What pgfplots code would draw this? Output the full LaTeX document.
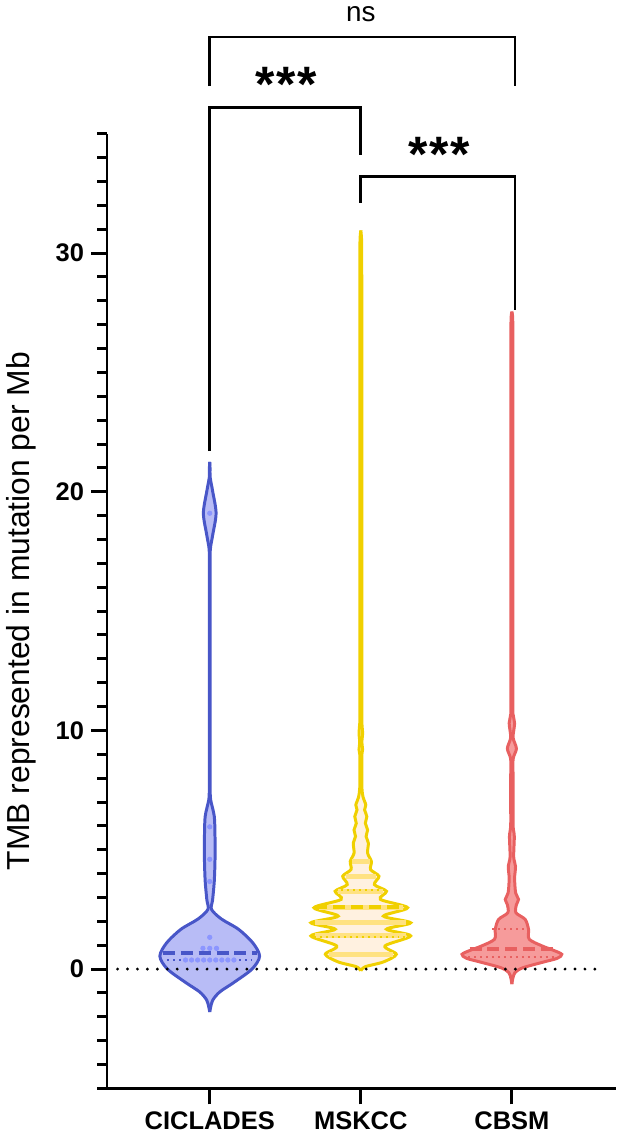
\documentclass[border=0pt]{standalone}
\usepackage{fontspec}
\setmainfont{Liberation Sans}
\usepackage{pgfplots}
\usepackage{pgfplotstable}
\pgfplotsset{compat=1.18}
\usepgfplotslibrary{fillbetween}

\definecolor{cicL}{RGB}{72,86,200}
\definecolor{cicF}{RGB}{176,181,245}
\definecolor{cicP}{RGB}{140,150,255}
\definecolor{mskL}{RGB}{240,208,0}
\definecolor{mskF}{RGB}{255,241,224}
\definecolor{mskB}{RGB}{255,226,130}
\definecolor{cbsL}{RGB}{232,96,96}
\definecolor{cbsF}{RGB}{246,155,155}

% violin half widths (x units) against TMB value
\pgfplotstableread{
y w
-1.8 0
-1.6 0.006
-1.3 0.02
-0.96 0.066
-0.56 0.16
0.0 0.28
0.54 0.33
1.1 0.285
1.67 0.19
2.1 0.077
2.5 0.012
2.9 0.019
3.67 0.03
4.6 0.035
5.5 0.035
6.4 0.03
7.1 0.006
7.6 0.003
8.3 0.003
9.3 0.003
11.0 0.003
13.0 0.003
15.0 0.003
16.2 0.003
17.0 0.003
17.6 0.004
18.2 0.02
19.1 0.042
20.0 0.02
20.6 0.003
21.0 0.002
21.25 0
}\cic

\pgfplotstableread{
y w
-0.07 0
0.1 0.03
0.3 0.15
0.62 0.235
0.97 0.16
1.39 0.33
1.67 0.17
1.94 0.33
2.22 0.15
2.57 0.31
2.92 0.13
3.26 0.17
3.54 0.09
3.89 0.12
4.17 0.065
4.51 0.07
4.86 0.045
5.28 0.05
5.56 0.035
5.83 0.045
6.11 0.03
6.39 0.04
6.67 0.025
6.88 0.033
7.2 0.015
7.6 0.007
8.3 0.007
9.0 0.007
9.2 0.012
9.5 0.007
9.9 0.012
10.3 0.007
11.0 0.007
12.0 0.007
14.0 0.007
17.0 0.007
20.0 0.007
23.0 0.007
26.0 0.007
28.0 0.007
29.5 0.006
30.3 0.006
30.7 0.004
30.95 0
}\msk

\pgfplotstableread{
y w
-0.63 0
-0.4 0.006
-0.15 0.02
0.05 0.07
0.28 0.2
0.45 0.3
0.62 0.33
0.8 0.27
0.97 0.2
1.25 0.115
1.67 0.11
2.08 0.088
2.36 0.027
2.7 0.03
2.92 0.044
3.19 0.025
3.8 0.018
4.3 0.024
4.7 0.012
5.56 0.016
6.0 0.008
7.0 0.008
8.0 0.008
8.8 0.008
9.24 0.03
9.7 0.008
10.3 0.018
10.7 0.007
11.4 0.007
12.5 0.007
14.5 0.007
17.0 0.007
20.0 0.007
23.0 0.007
25.5 0.007
26.6 0.007
27.1 0.006
27.4 0.004
27.55 0
}\cbs

\begin{document}
\begin{tikzpicture}
\begin{axis}[
    scale only axis,
    width=256pt, height=480pt,
    xmin=0.32, xmax=3.69,
    ymin=-5, ymax=35,
    axis x line=bottom, axis y line=left,
    axis line style={-, line width=1.5pt},
    tick style={black, line width=1.5pt},
    tick align=outside,
    major tick length=8pt, minor tick length=5pt,
    xtick={1,2,3},
    xticklabels={CICLADES, MSKCC, CBSM},
    ytick={0,10,20,30},
    minor ytick={-5,-4,...,35},
    /pgf/number format/assume math mode=true,
    ticklabel style={font=\bfseries\fontsize{12.8}{14}\selectfont},
    ylabel={TMB represented in mutation per Mb},
    every axis y label/.style={at={(axis description cs:-0.168,0.5)}, rotate=90, anchor=center, font=\fontsize{16}{19}\selectfont},
    clip=false,
]
% CICLADES
\addplot[name path=cR, cicL, line width=1.5pt, smooth, tension=0.5] table[x expr=1+\thisrow{w}, y=y] {\cic};
\addplot[name path=cL, cicL, line width=1.5pt, smooth, tension=0.5] table[x expr=1-\thisrow{w}, y=y] {\cic};
\addplot[cicF, fill opacity=0.9] fill between[of=cR and cL];
% MSKCC
\addplot[name path=mR, mskL, line width=1.5pt, smooth, tension=0.5] table[x expr=2+\thisrow{w}, y=y] {\msk};
\addplot[name path=mL, mskL, line width=1.5pt, smooth, tension=0.5] table[x expr=2-\thisrow{w}, y=y] {\msk};
\addplot[mskF] fill between[of=mR and mL];
% CBSM
\addplot[name path=bR, cbsL, line width=1.5pt, smooth, tension=0.5] table[x expr=3+\thisrow{w}, y=y] {\cbs};
\addplot[name path=bL, cbsL, line width=1.5pt, smooth, tension=0.5] table[x expr=3-\thisrow{w}, y=y] {\cbs};
\addplot[cbsF] fill between[of=bR and bL];

% MSKCC bands of points
\addplot[mskB, line width=2.5pt] coordinates {(1.79,0.62) (2.21,0.62)};
\addplot[mskB, line width=2.5pt] coordinates {(1.70,1.39) (2.30,1.39)};
\addplot[mskB, line width=2.5pt] coordinates {(1.70,1.94) (2.30,1.94)};
\addplot[mskB, line width=2.5pt] coordinates {(1.72,2.57) (2.28,2.57)};
\addplot[mskB, line width=2.5pt] coordinates {(1.85,3.26) (2.15,3.26)};
\addplot[mskB, line width=2.5pt] coordinates {(1.90,3.89) (2.10,3.89)};
\addplot[mskB, line width=2.5pt] coordinates {(1.94,4.51) (2.06,4.51)};

% CICLADES points
\addplot[only marks, mark=*, mark size=1.1pt, cicP] coordinates {
(1,19.1) (1,5.96) (1,4.6) (1,3.67) (1,1.33)
(0.955,0.87) (1,0.87) (1.045,0.87)
(0.84,0.38) (0.88,0.38) (0.92,0.38) (0.96,0.38) (1,0.38) (1.04,0.38) (1.08,0.38) (1.12,0.38) (1.16,0.38)};

% medians and quartiles
\addplot[cicL, line width=1.8pt, dash pattern=on 6pt off 3pt] coordinates {(0.69,0.67) (1.31,0.67)};
\addplot[cicL, line width=1pt, dash pattern=on 1pt off 2pt] coordinates {(0.72,0.40) (1.28,0.40)};
\addplot[mskL, line width=1.8pt, dash pattern=on 6pt off 3pt] coordinates {(1.70,2.6) (2.30,2.6)};
\addplot[mskL, line width=1pt, dash pattern=on 1pt off 2pt] coordinates {(1.83,3.3) (2.17,3.3)};
\addplot[mskL, line width=1pt, dash pattern=on 1pt off 2pt] coordinates {(1.69,1.33) (2.31,1.33)};
\addplot[cbsL, line width=1.8pt, dash pattern=on 6pt off 3pt] coordinates {(2.72,0.83) (3.27,0.83)};
\addplot[cbsL, line width=1pt, dash pattern=on 1pt off 2pt] coordinates {(2.87,1.67) (3.13,1.67)};
\addplot[cbsL, line width=1pt, dash pattern=on 1pt off 2pt] coordinates {(2.71,0.5) (3.30,0.5)};

% zero line
\addplot[black, line width=1.6pt, line cap=round, dash pattern=on 0pt off 5pt] coordinates {(0.39,0) (3.61,0)};

% significance brackets
\draw[line width=1.4pt] (axis cs:1,37.0) -- (axis cs:1,39.05) -- (axis cs:3.02,39.05) -- (axis cs:3.02,37.0);
\node[anchor=base, font=\fontsize{14}{16}\selectfont] at (axis cs:2,39.7) {ns};
\draw[line width=1.4pt] (axis cs:1,21.7) -- (axis cs:1,36.1) -- (axis cs:2,36.1) -- (axis cs:2,34.1);
\node[inner sep=0pt, font=\bfseries\fontsize{25}{28}\selectfont] at (axis cs:1.507,37.05) {*\kern1pt*\kern1pt*};
\draw[line width=1.4pt] (axis cs:2,32.1) -- (axis cs:2,33.2) -- (axis cs:3.02,33.2) -- (axis cs:3.02,27.6);
\node[inner sep=0pt, font=\bfseries\fontsize{25}{28}\selectfont] at (axis cs:2.52,34.15) {*\kern1pt*\kern1pt*};
\end{axis}
\end{tikzpicture}
\end{document}
